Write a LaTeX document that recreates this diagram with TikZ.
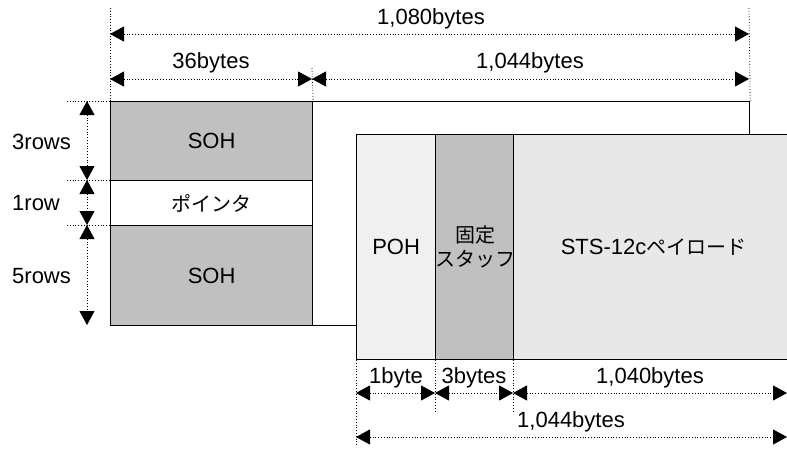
\documentclass[tikz,border=0pt]{standalone}
\usepackage{fontspec}
\setmainfont{Liberation Sans}
\newfontfamily\jp{Noto Sans CJK JP}
\usetikzlibrary{arrows.meta}
\definecolor{sohgray}{HTML}{C0C0C0}
\definecolor{pohgray}{HTML}{F0F0F0}
\definecolor{paygray}{HTML}{E8E8E8}
\begin{document}
\begin{tikzpicture}[x=1pt,y=-1pt,
  txt/.style={font=\fontsize{22}{26}\selectfont, inner sep=0pt},
  blk/.style={draw=black, line width=1.2pt, inner sep=0pt, anchor=north west, font=\fontsize{22}{26}\selectfont, align=center},
  ext/.style={dotted, line width=0.8pt},
  dimarrow/.style={dotted, line width=0.8pt, {Triangle[length=14pt,width=15pt]}-{Triangle[length=14pt,width=15pt]}}]
\useasboundingbox (0,0) rectangle (787,448);
\clip (0,0) rectangle (787,448);

% outer frame and left column
\node[blk, fill=white, minimum width=639pt, minimum height=224pt] (frame) at (110,101) {};
\node[blk, fill=sohgray, minimum width=202pt, minimum height=79pt] (soh1) at (110,101) {SOH};
\node[blk, fill=white, minimum width=202pt, minimum height=45pt] (ptr) at (110,180) {\fontsize{20}{24}\selectfont\jp ポインタ};
\node[blk, fill=sohgray, minimum width=202pt, minimum height=100pt] (soh2) at (110,225) {SOH};

% inner structure
\node[blk, fill=pohgray, minimum width=79pt, minimum height=225pt] (poh) at (356,134) {POH};
\node[blk, fill=sohgray, minimum width=78pt, minimum height=225pt] (stuff) at (435,134) {\fontsize{20}{25}\selectfont\jp 固定\\[-2pt]\fontsize{20}{25}\selectfont\jp スタッフ};
\node[blk, fill=paygray, minimum width=280pt, minimum height=225pt] (pay) at (513,134) {STS-12c{\fontsize{20}{24}\selectfont\jp ペイロード}};

% top dimensions
\coordinate (tv0) at (110,8);
\coordinate (tv1) at (749,8);
\coordinate (tv2) at (312,68);
\draw[ext] (tv0) -- (frame.north west);
\draw[ext] (tv1) -- (frame.north east);
\draw[ext] (tv2) -- (soh1.north east);
\coordinate (a0) at (110,34);
\coordinate (a1) at (749,34);
\coordinate (b0) at (110,79);
\coordinate (b1) at (312,79);
\coordinate (b2) at (749,79);
\draw[dimarrow] (a0) -- (a1);
\draw[dimarrow] (b0) -- (b1);
\draw[dimarrow] (b1) -- (b2);
\node[txt] (l1080) at (431,19) {1,080bytes};
\node[txt] (l36) at (211,63) {36bytes};
\node[txt] (l1044a) at (530,63) {1,044bytes};

% left dimensions
\coordinate (e0) at (67,101);
\coordinate (e1) at (67,180);
\coordinate (e2) at (67,225);
\draw[ext] (e0) -- (soh1.north west);
\draw[ext] (e1) -- (ptr.north west);
\draw[ext] (e2) -- (soh2.north west);
\coordinate (v0) at (87,101);
\coordinate (v1) at (87,180);
\coordinate (v2) at (87,225);
\coordinate (v3) at (87,325);
\draw[dimarrow] (v0) -- (v1);
\draw[dimarrow] (v1) -- (v2);
\draw[dimarrow] (v2) -- (v3);
\node[txt, anchor=west] (r3) at (12,142) {3rows};
\node[txt, anchor=west] (r1) at (12,203) {1row};
\node[txt, anchor=west] (r5) at (12,276) {5rows};

% bottom dimensions
\coordinate (bv0) at (356,447);
\coordinate (bv1) at (435,412);
\coordinate (bv2) at (513,412);
\draw[ext] (poh.south west) -- (bv0);
\draw[ext] (stuff.south west) -- (bv1);
\draw[ext] (pay.south west) -- (bv2);
\coordinate (c0) at (356,393);
\coordinate (c1) at (435,393);
\coordinate (c2) at (513,393);
\coordinate (c3) at (787,393);
\coordinate (d0) at (356,437);
\coordinate (d1) at (787,437);
\draw[dimarrow] (c0) -- (c1);
\draw[dimarrow] (c1) -- (c2);
\draw[dimarrow] (c2) -- (c3);
\draw[dimarrow] (d0) -- (d1);
\node[txt] (l1b) at (396,378) {1byte};
\node[txt] (l3b) at (474,378) {3bytes};
\node[txt] (l1040) at (650,378) {1,040bytes};
\node[txt] (l1044b) at (571,422) {1,044bytes};
\end{tikzpicture}
\end{document}
